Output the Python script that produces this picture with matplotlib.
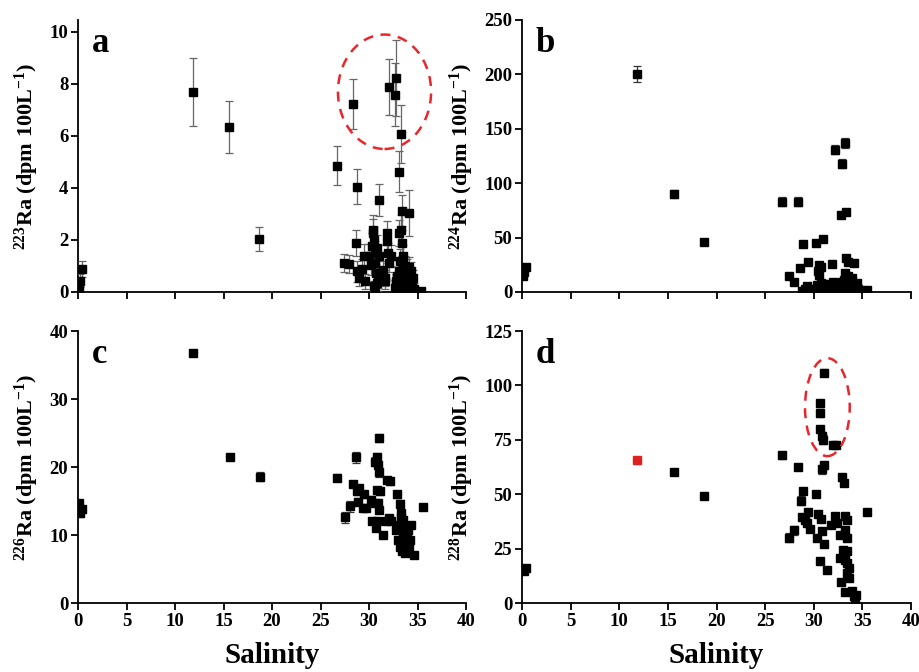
import matplotlib
matplotlib.use("Agg")
import matplotlib.pyplot as plt
from matplotlib.patches import Ellipse

plt.rcParams['font.family'] = ['Liberation Serif', 'DejaVu Serif']
plt.rcParams['font.weight'] = 'bold'
plt.rcParams['mathtext.default'] = 'regular'

# ---------------- Panel a : 223Ra ----------------
sal_a = [0.07, 0.17, 0.4, 11.84, 15.6, 18.7, 26.7, 28.3, 28.8, 31.0, 32.1, 32.8, 32.7,
         33.25, 33.1, 33.4, 34.1, 35.4,
         27.45, 27.97, 28.65, 28.76, 29.0, 29.27, 29.5, 29.6, 30.0, 30.2, 30.3, 30.4,
         30.44, 30.5, 30.6, 30.65, 30.7, 30.5, 30.8, 30.9, 31.05, 31.4, 31.6, 31.7,
         31.85, 31.9, 32.0, 32.1, 32.3, 32.8, 33.1, 33.3, 33.4, 33.5, 33.5,
         32.7, 32.8, 32.9, 33.0, 33.1, 33.2, 33.3, 33.35, 33.45, 33.5, 33.6, 33.65,
         33.75, 33.8, 33.9, 33.95, 34.0, 34.05, 34.15, 34.2, 34.3, 34.35, 34.45, 34.5,
         34.6, 33.15, 33.55, 33.7, 34.1, 30.6, 30.8]
ra223 = [0.15, 0.44, 0.88, 7.68, 6.33, 2.04, 4.86, 7.23, 4.05, 3.54, 7.88, 8.23, 7.59,
         6.08, 4.63, 3.12, 3.04, 0.02,
         1.12, 1.08, 1.88, 0.79, 0.54, 0.88, 1.40, 0.41, 1.40, 1.05, 1.76, 2.27,
         2.40, 2.00, 1.50, 1.10, 0.73, 0.22, 1.70, 0.47, 1.37, 0.86, 0.54, 0.41,
         2.27, 1.95, 1.50, 1.12, 1.40, 0.41, 2.27, 2.40, 1.90, 1.37, 0.99,
         0.15, 0.35, 0.60, 0.25, 0.80, 0.45, 0.10, 0.65, 0.30, 0.90, 0.50, 0.20,
         0.70, 0.40, 0.10, 0.85, 0.55, 0.30, 0.65, 0.15, 0.45, 0.80, 0.25, 0.55,
         0.10, 1.20, 1.10, 1.00, 0.95, 0.05, 0.35]
err223 = [0.2, 0.25, 0.3, 1.3, 1.0, 0.45, 0.75, 0.97, 0.67, 0.6, 1.09, 1.45, 1.2,
          1.1, 0.8, 0.6, 0.88, 0.0,
          0.35, 0.35, 0.5, 0.4, 0.3, 0.4, 0.45, 0.3, 0.45, 0.4, 0.5, 0.55,
          0.55, 0.5, 0.45, 0.4, 0.35, 0.2, 0.5, 0.3, 0.45, 0.35, 0.3, 0.3,
          0.45, 0.45, 0.4, 0.35, 0.4, 0.3, 0.5, 0.55, 0.5, 0.45, 0.4,
          0.3, 0.3, 0.35, 0.3, 0.4, 0.35, 0.25, 0.35, 0.3, 0.4, 0.35, 0.3,
          0.35, 0.3, 0.25, 0.4, 0.35, 0.3, 0.35, 0.25, 0.3, 0.35, 0.3, 0.3,
          0.25, 0.45, 0.4, 0.4, 0.4, 0.2, 0.3]

# ---------------- Panel b : 224Ra ----------------
sal_b = [0.1, 0.2, 0.45, 11.87, 15.64, 18.73, 26.7, 28.4, 32.2, 33.2, 32.9, 32.8, 33.3,
         28.85, 30.2, 30.98, 31.9, 30.57, 30.7, 30.45, 30.56, 29.4, 28.6, 27.5, 28.0,
         29.3, 33.3, 33.5, 34.1, 33.2, 33.5, 33.9, 34.4, 35.5,
         28.8, 29.1, 29.5, 30.0, 30.3, 30.5, 30.7, 30.9, 31.1, 31.3, 31.5, 31.7, 31.9,
         32.1, 32.3, 32.5, 32.7, 32.9, 33.0, 33.1, 33.2, 33.3, 33.4, 33.5, 33.6, 33.7,
         33.8, 33.9, 34.0, 34.1, 34.2, 34.3, 34.5, 31.0, 32.0]
ra224 = [14.3, 18.0, 22.6, 200.3, 90.2, 46.3, 82.9, 82.9, 130.8, 136.9, 118.0, 70.7, 73.2,
         43.9, 44.8, 48.8, 25.6, 24.4, 22.9, 18.9, 15.9, 28.0, 22.0, 14.3, 8.8,
         5.8, 31.0, 28.0, 27.0, 17.4, 14.3, 12.8, 8.2, 1.5,
         1.0, 2.5, 1.2, 3.0, 6.0, 2.0, 8.5, 4.0, 1.5, 6.5, 3.5, 7.0, 2.0,
         5.0, 1.0, 3.5, 6.0, 9.0, 2.5, 11.0, 4.5, 7.5, 1.5, 9.5, 3.0, 6.0,
         0.8, 4.0, 7.0, 2.0, 5.0, 1.0, 3.0, 7.0, 9.0]
err224 = [1, 1, 1, 7, 4, 2, 4, 4, 4, 5, 4, 2.5, 2.5,
          2, 2, 2, 1.5, 1.5, 1.5, 1.5, 1.5, 1.5, 1.5, 1, 1,
          1, 1.5, 1.5, 1.5, 1.5, 1.5, 1, 1, 0.5,
          0.5, 0.5, 0.5, 0.5, 0.8, 0.5, 0.8, 0.5, 0.5, 0.8, 0.5, 0.8, 0.5,
          0.8, 0.5, 0.5, 0.8, 0.8, 0.5, 1, 0.5, 0.8, 0.5, 0.8, 0.5, 0.8,
          0.5, 0.5, 0.8, 0.5, 0.8, 0.5, 0.5, 0.8, 0.8]

# ---------------- Panel c : 226Ra ----------------
sal_c = [0.1, 0.17, 0.45, 11.9, 15.7, 18.8, 26.7, 27.5, 28.0, 28.7, 28.4, 28.8, 28.97,
         28.9, 29.4, 29.5, 29.7, 30.2, 30.3, 30.6, 30.65, 30.8, 30.9, 31.05, 31.05,
         30.8, 31.1, 30.7, 30.8, 30.96, 31.05, 31.4, 31.9, 32.2, 31.8, 32.1, 32.3,
         32.9, 33.2, 32.8, 33.0, 33.2, 33.3, 33.4, 33.5, 33.6, 33.7, 33.9, 34.0,
         34.1, 34.3, 34.2, 34.6, 35.6, 33.1, 33.3, 33.5, 33.8, 34.0, 33.6, 33.4]
ra226 = [14.7, 13.2, 13.8, 36.7, 21.5, 18.6, 18.4, 12.6, 14.2, 21.4, 17.5, 16.4, 16.9,
         14.9, 14.0, 16.0, 14.0, 15.2, 12.1, 14.7, 20.8, 21.5, 20.3, 19.2, 24.3,
         16.6, 16.4, 11.0, 12.0, 14.7, 13.7, 10.0, 18.1, 17.9, 12.1, 12.5, 12.0,
         16.0, 14.6, 10.8, 9.3, 8.3, 12.7, 11.8, 10.3, 8.8, 7.3, 9.8, 10.8,
         8.3, 11.5, 9.3, 7.0, 14.1, 11.5, 13.3, 12.2, 8.0, 9.0, 10.0, 7.7]
err226 = [0.5, 0.5, 0.5, 0.4, 0.4, 0.6, 0.5, 0.8, 0.8, 0.8, 0.5, 0.5, 0.5,
          0.5, 0.4, 0.5, 0.4, 0.5, 0.4, 0.5, 0.6, 0.6, 0.6, 0.6, 0.6,
          0.5, 0.5, 0.4, 0.4, 0.5, 0.4, 0.4, 0.5, 0.5, 0.4, 0.4, 0.4,
          0.5, 0.5, 0.4, 0.4, 0.4, 0.4, 0.4, 0.4, 0.4, 0.4, 0.4, 0.4,
          0.4, 0.4, 0.4, 0.4, 0.4, 0.4, 0.4, 0.4, 0.4, 0.4, 0.4, 0.4]

# ---------------- Panel d : 228Ra ----------------
sal_d = [0.2, 0.45, 15.64, 18.73, 26.7, 27.5, 28.0, 28.4, 28.65, 28.85, 28.75, 29.1,
         29.4, 29.3, 29.6, 30.2, 30.3, 30.45, 30.7, 30.8, 31.1, 30.6, 31.4, 31.1,
         30.6, 30.6, 30.6, 30.8, 30.9, 32.0, 32.3, 30.8, 31.1, 32.9, 33.1, 31.8,
         32.2, 32.4, 32.7, 33.2, 33.4, 33.2, 33.4, 33.0, 33.4, 32.7, 33.2, 33.4,
         33.65, 33.4, 33.6, 32.8, 33.2, 33.9, 34.1, 34.3, 34.2, 35.5]
ra228 = [14.5, 16.1, 60.3, 49.3, 67.8, 30.1, 33.4, 62.7, 47.1, 51.6, 39.3, 38.3,
         41.8, 36.7, 34.0, 50.3, 29.8, 41.0, 38.6, 32.9, 27.2, 19.1, 15.0, 105.9,
         91.8, 87.2, 79.9, 76.8, 75.0, 72.4, 72.4, 61.5, 63.2, 57.7, 55.1, 36.0,
         39.8, 36.7, 31.1, 39.8, 38.3, 33.7, 29.8, 24.5, 23.7, 20.7, 19.9, 18.4,
         16.1, 13.8, 11.5, 9.5, 4.9, 5.4, 3.1, 3.8, 1.5, 41.6]
err228 = [1, 1, 1, 1.2, 1.5, 2, 2, 1, 2, 1, 1, 1,
          1, 1, 1, 1, 1, 1, 1, 1, 1, 1, 1, 1.8,
          1.5, 1.8, 1.5, 2, 2, 1.2, 1.2, 2, 1.5, 1.5, 1.5, 1,
          1, 1, 1, 1, 1, 1, 1, 1, 1, 1, 1, 1,
          1, 1, 1, 1, 1, 1, 1, 1, 1, 1]
sal_d_red = [11.87]
ra228_red = [65.8]

xticks = [0, 5, 10, 15, 20, 25, 30, 35, 40]

fig = plt.figure(figsize=(9.19, 6.72), dpi=100)
W, H = 919, 672

def make_ax(l, r, t, b):
    return fig.add_axes([l / W, 1 - b / H, (r - l) / W, (b - t) / H])

ax_a = make_ax(78, 466, 20, 292)
ax_b = make_ax(522, 911, 20, 292)
ax_c = make_ax(78, 466, 331, 603)
ax_d = make_ax(522, 911, 331, 603)

panels = [
    (ax_a, sal_a, ra223, err223, (0, 10.46), [0, 2, 4, 6, 8, 10], 'a', '223', False),
    (ax_b, sal_b, ra224, err224, (0, 250), [0, 50, 100, 150, 200, 250], 'b', '224', False),
    (ax_c, sal_c, ra226, err226, (0, 40), [0, 10, 20, 30, 40], 'c', '226', True),
    (ax_d, sal_d, ra228, err228, (0, 125), [0, 25, 50, 75, 100, 125], 'd', '228', True),
]

for ax, xs, ys, es, ylim, yt, letter, iso, show_x in panels:
    ecol = '#666666' if letter == 'a' else '#333333'
    ax.errorbar(xs, ys, yerr=es, fmt='s', color='black', ms=5.4, mec='black',
                ecolor=ecol, elinewidth=0.9, capsize=3, capthick=0.9, zorder=3)
    ax.set_xlim(0, 40)
    ax.set_ylim(*ylim)
    ax.set_xticks(xticks)
    ax.set_yticks(yt)
    for s in ['top', 'right']:
        ax.spines[s].set_visible(False)
    for s in ['left', 'bottom']:
        ax.spines[s].set_linewidth(1.3)
    ax.tick_params(direction='out', length=5, width=1.3, labelsize=13.5, pad=2)
    if not show_x:
        ax.tick_params(axis='x', labelbottom=False)
    for lab in ax.get_xticklabels() + ax.get_yticklabels():
        lab.set_fontweight('bold')
    ax.text(0.035, 0.975, letter, transform=ax.transAxes, fontsize=25,
            fontweight='bold', va='top', ha='left')
    ax.set_ylabel('$^{%s}$Ra (dpm 100L$^{-1}$)' % iso, fontsize=16,
                  fontweight='bold', labelpad=6)

ax_d.errorbar(sal_d_red, ra228_red, yerr=[1.0], fmt='s', color='#e0201f', ms=5.4,
              mec='#e0201f', ecolor='#e0201f', elinewidth=0.9, capsize=3, zorder=4)

ax_a.add_patch(Ellipse((31.6, 7.7), 9.6, 4.4, fill=False, ec='#e8262b', lw=1.8,
                       ls=(0, (4, 3)), zorder=5))
ax_d.add_patch(Ellipse((31.4, 90), 4.6, 45, fill=False, ec='#e8262b', lw=1.8,
                       ls=(0, (4, 3)), zorder=5))

for ax in [ax_c, ax_d]:
    ax.set_xlabel('Salinity', fontsize=21, fontweight='bold', labelpad=9)

fig.savefig('out.png', dpi=100)
